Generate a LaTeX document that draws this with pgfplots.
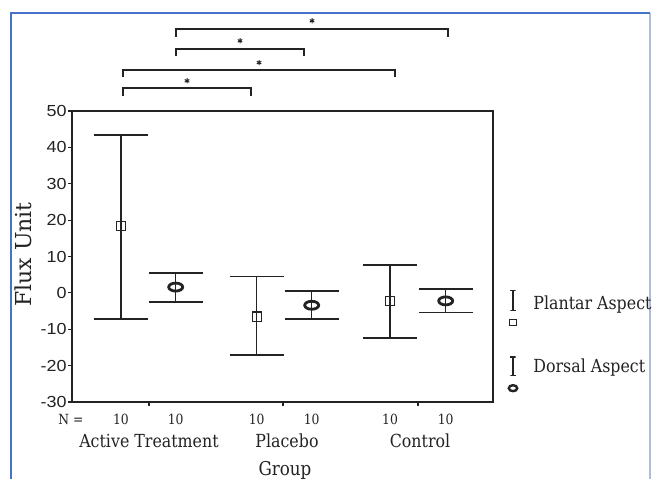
\documentclass[border=0pt]{standalone}
\usepackage{fontspec}
\setmainfont{DejaVu Serif}[FakeStretch=0.88]
\newfontfamily\labelfont{DejaVu Serif}
\newfontfamily\ticksf{Liberation Sans}[FakeStretch=1.12]
\usepackage{pgfplots}
\pgfplotsset{compat=1.18}
\definecolor{frameblue}{RGB}{70,115,200}
\definecolor{framefaint}{RGB}{175,190,215}
\definecolor{ink}{RGB}{35,35,35}
\begin{document}
\begin{tikzpicture}
\useasboundingbox (0pt,0pt) rectangle (326pt,-239pt);
\fill[white] (0pt,0pt) rectangle (326pt,-239pt);
\draw[framefaint, line width=0.6pt] (325pt,-6.5pt) -- (325pt,-260pt);
\draw[frameblue, line width=1.1pt] (5.5pt,-260pt) -- (5.5pt,-6.5pt) -- (325pt,-6.5pt);
\begin{axis}[
  at={(36pt,-201pt)}, anchor=south west,
  scale only axis, width=210.5pt, height=145.5pt,
  xmin=72, xmax=493, ymin=-30, ymax=50,
  clip=false,
  axis line style={ink, line width=0.8pt},
  ytick={-30,-20,...,50},
  xtick={149,283,418},
  xticklabels={,,},
  xtick pos=bottom, ytick pos=left,
  tick align=outside, major tick length=2pt,
  tick style={ink, line width=0.6pt},
  yticklabel style={font=\ticksf\fontsize{8}{8}\selectfont, text=ink, inner sep=0.5pt},
  /pgf/number format/assume math mode=true,
]
% Plantar aspect
\addplot[ink, only marks, mark=square, mark size=2.3pt,
  mark options={fill=white, line width=0.6pt},
  error bars/.cd, y dir=both, y explicit,
  error bar style={line width=0.6pt, ink},
  error mark options={rotate=90, mark size=13.5pt, line width=0.9pt, ink}]
  coordinates {
  (121,18.4) += (0,25.0) -= (0,25.6)
  (256.7,-6.5) += (0,11.0) -= (0,10.6)
  (390,-2.2) += (0,9.8) -= (0,10.1)
  };
% Dorsal aspect
\addplot[ink, only marks, mark=o, mark size=2pt,
  mark options={xscale=1.75, fill=white, line width=1.4pt},
  error bars/.cd, y dir=both, y explicit,
  error bar style={line width=0.6pt, ink},
  error mark options={rotate=90, mark size=13.5pt, line width=0.9pt, ink}]
  coordinates {
  (175.7,1.6) += (0,3.8) -= (0,4.1)
  (311.7,-3.4) += (0,3.9) -= (0,3.7)
  (445.7,-2.2) += (0,3.2) -= (0,3.2)
  };
% significance brackets
\addplot[ink, line width=0.8pt] coordinates {(176,70.38) (176,72.5) (448,72.5) (448,70.38)};
\addplot[ink, line width=0.8pt] coordinates {(176,65.15) (176,67.0) (304,67.0) (304,65.15)};
\addplot[ink, line width=0.8pt] coordinates {(123,59.38) (123,61.22) (395,61.22) (395,59.38)};
\addplot[ink, line width=1.0pt] coordinates {(123,54.16) (123,56.28) (251,56.28) (251,54.16)};
\addplot[ink, only marks, mark=asterisk, mark size=1.3pt, mark options={line width=0.5pt}]
  coordinates {(312,74.8) (240,69.3) (259,63.3) (187,58.3)};
% legend symbols
\addplot[ink, line width=0.6pt] coordinates {(510.3,0.55) (515.7,0.55) (513,0.55) (513,-4.95) (510.3,-4.95) (515.7,-4.95)};
\addplot[ink, line width=0.6pt] coordinates {(510.3,-17.6) (515.7,-17.6) (513,-17.6) (513,-22.8) (510.3,-22.8) (515.7,-22.8)};
\addplot[ink, only marks, mark=square, mark size=1.6pt, mark options={line width=0.6pt}]
  coordinates {(513,-8.17)};
\addplot[ink, only marks, mark=o, mark size=1.5pt, mark options={xscale=1.4, line width=1.2pt}]
  coordinates {(513,-26.2)};
% texts
\node[ink, anchor=base west, inner sep=0pt, font=\fontsize{9}{9}\selectfont] at (axis cs:533,-4.48) {Plantar Aspect};
\node[ink, anchor=base west, inner sep=0pt, font=\fontsize{9}{9}\selectfont] at (axis cs:533,-21.9) {Dorsal Aspect};
\node[ink, anchor=base, inner sep=0pt, font=\labelfont\fontsize{11}{11}\selectfont, rotate=90] at (axis cs:32,10.58) {Flux Unit};
\node[ink, anchor=base, inner sep=0pt, font=\fontsize{9}{9}\selectfont] at (axis cs:149,-42.6) {Active Treatment};
\node[ink, anchor=base, inner sep=0pt, font=\fontsize{9}{9}\selectfont] at (axis cs:287,-42.6) {Placebo};
\node[ink, anchor=base, inner sep=0pt, font=\fontsize{9}{9}\selectfont] at (axis cs:420,-42.6) {Control};
\node[ink, anchor=base, inner sep=0pt, font=\fontsize{9.5}{9.5}\selectfont] at (axis cs:285,-50.1) {Group};
\node[ink, anchor=base, inner sep=0pt, font=\fontsize{7}{7}\selectfont] at (axis cs:71,-36.1) {N =};
\node[ink, anchor=base, inner sep=0pt, font=\fontsize{7}{7}\selectfont] at (axis cs:121,-36.1) {10};
\node[ink, anchor=base, inner sep=0pt, font=\fontsize{7}{7}\selectfont] at (axis cs:175.7,-36.1) {10};
\node[ink, anchor=base, inner sep=0pt, font=\fontsize{7}{7}\selectfont] at (axis cs:256.7,-36.1) {10};
\node[ink, anchor=base, inner sep=0pt, font=\fontsize{7}{7}\selectfont] at (axis cs:311.7,-36.1) {10};
\node[ink, anchor=base, inner sep=0pt, font=\fontsize{7}{7}\selectfont] at (axis cs:390,-36.1) {10};
\node[ink, anchor=base, inner sep=0pt, font=\fontsize{7}{7}\selectfont] at (axis cs:445.7,-36.1) {10};
\end{axis}
\end{tikzpicture}
\end{document}
